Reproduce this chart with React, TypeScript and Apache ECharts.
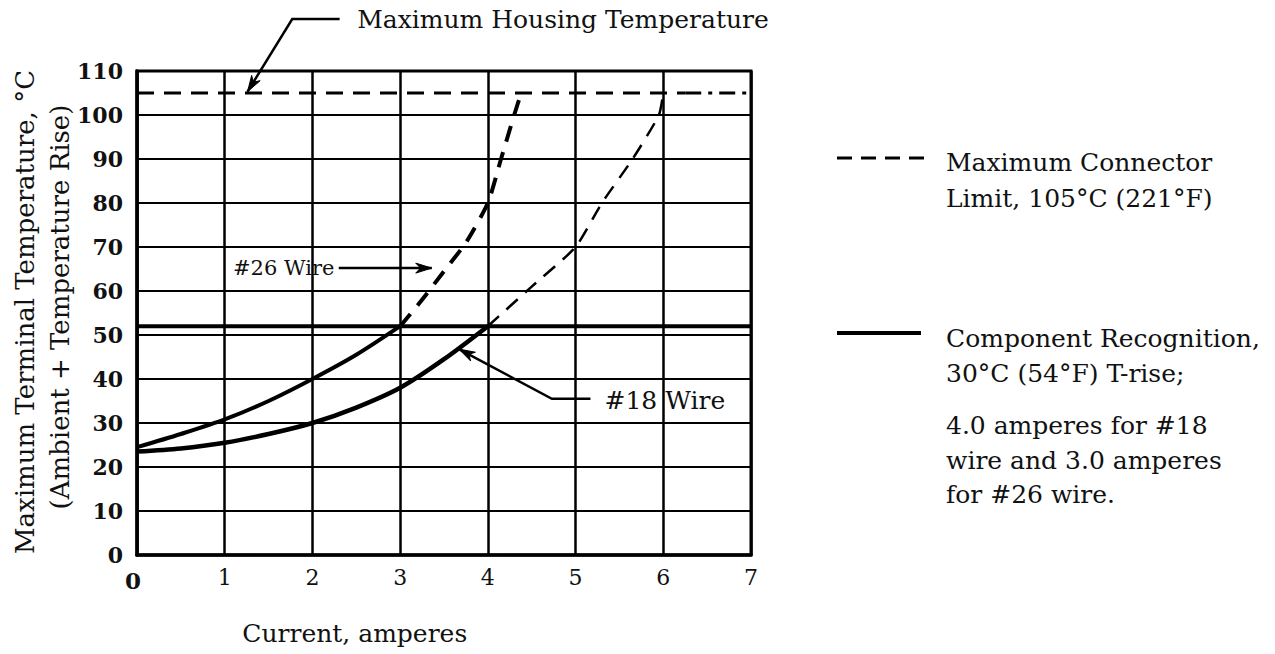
import React, { useEffect, useRef } from "react";
import * as echarts from "echarts";

// ---- data ----
const xTicks = [0, 1, 2, 3, 4, 5, 6, 7];
const yTicks = [0, 10, 20, 30, 40, 50, 60, 70, 80, 90, 100, 110];

const connectorLimit = 105; // Maximum Connector Limit, °C
const recognitionLimit = 52; // Component Recognition level, °C

const current26Solid = [0, 0.5, 1, 1.5, 2, 2.5, 3];
const temp26Solid = [24.5, 27.5, 30.8, 35, 40, 45.5, 52];
const current26Dashed = [3, 3.25, 3.5, 3.75, 4, 4.15, 4.3, 4.38];
const temp26Dashed = [52, 58, 64.5, 71, 80, 90, 100, 105];

const current18Solid = [0, 0.5, 1, 1.5, 2, 2.5, 3, 3.5, 4];
const temp18Solid = [23.5, 24.2, 25.5, 27.5, 30, 33.5, 38, 44.5, 52];
const current18Dashed = [4, 4.5, 5, 5.3, 5.65, 5.95, 6];
const temp18Dashed = [52, 61, 70, 80, 90, 100, 105];

const FONT = "DejaVu Serif";
const INK = "#111";

const zip = (xs: number[], ys: number[]) => xs.map((x, i) => [x, ys[i]]);

export default function App() {
  const ref = useRef<HTMLDivElement>(null);

  useEffect(() => {
    const chart = echarts.init(ref.current!, null, { renderer: "svg" });
    chart.setOption({
      animation: false,
      backgroundColor: "#fff",
      grid: {
        left: 137,
        right: 524,
        top: 71,
        bottom: 99,
        show: true,
        borderColor: "#000",
        borderWidth: 3,
      },
      xAxis: {
        type: "value",
        min: xTicks[0],
        max: xTicks[xTicks.length - 1],
        interval: 1,
        axisLine: { show: true, lineStyle: { color: "#000", width: 3.5 } },
        axisTick: { show: false },
        splitLine: { show: true, lineStyle: { color: "#000", width: 2.5 } },
        axisLabel: {
          margin: 11,
          fontFamily: FONT,
          fontSize: 22,
          color: INK,
          formatter: (v: number) => (v === 0 ? "{z|0}" : String(v)),
          rich: {
            z: { fontFamily: FONT, fontSize: 23, fontWeight: "bold", color: INK, padding: [3, 8, 0, 0] },
          },
        },
      },
      yAxis: {
        type: "value",
        min: yTicks[0],
        max: yTicks[yTicks.length - 1],
        interval: 10,
        axisLine: { show: true, lineStyle: { color: "#000", width: 3.5 } },
        axisTick: { show: false },
        splitLine: { show: true, lineStyle: { color: "#000", width: 2 } },
        axisLabel: {
          margin: 14,
          fontFamily: FONT,
          fontSize: 22,
          fontWeight: "bold",
          color: INK,
        },
      },
      series: [
        {
          name: "Maximum Connector Limit",
          type: "line",
          symbol: "none",
          data: [
            [xTicks[0], connectorLimit],
            [6.25, connectorLimit],
          ],
          lineStyle: { color: "#000", width: 3, type: [17, 10] },
        },
        {
          name: "Maximum Connector Limit (end)",
          type: "line",
          symbol: "none",
          data: [
            [6.25, connectorLimit],
            [xTicks[xTicks.length - 1], connectorLimit],
          ],
          lineStyle: { color: "#000", width: 3, type: [16, 7, 4, 7] },
        },
        {
          name: "Component Recognition",
          type: "line",
          symbol: "none",
          data: [
            [xTicks[0], recognitionLimit],
            [xTicks[xTicks.length - 1], recognitionLimit],
          ],
          lineStyle: { color: "#000", width: 4 },
        },
        {
          name: "#26 Wire",
          type: "line",
          symbol: "none",
          smooth: 0.3,
          data: zip(current26Solid, temp26Solid),
          lineStyle: { color: "#000", width: 4 },
        },
        {
          name: "#26 Wire (beyond)",
          type: "line",
          symbol: "none",
          smooth: 0.2,
          data: zip(current26Dashed, temp26Dashed),
          lineStyle: { color: "#000", width: 4, type: [16, 11] },
        },
        {
          name: "#18 Wire",
          type: "line",
          symbol: "none",
          smooth: 0.3,
          data: zip(current18Solid, temp18Solid),
          lineStyle: { color: "#000", width: 4.5 },
        },
        {
          name: "#18 Wire (beyond)",
          type: "line",
          symbol: "none",
          smooth: 0.2,
          data: zip(current18Dashed, temp18Dashed),
          lineStyle: { color: "#000", width: 2.5, type: [15, 10] },
        },
      ],
    });

    const px = (x: number, y: number) => chart.convertToPixel({ gridIndex: 0 }, [x, y]) as number[];

    const arrowHead = (from: number[], tip: number[], len = 16, half = 5) => {
      const dx = tip[0] - from[0];
      const dy = tip[1] - from[1];
      const d = Math.hypot(dx, dy) || 1;
      const ux = dx / d;
      const uy = dy / d;
      const bx = tip[0] - ux * len;
      const by = tip[1] - uy * len;
      return {
        type: "polygon",
        shape: {
          points: [
            tip,
            [bx - uy * half, by + ux * half],
            [tip[0] - ux * len * 0.7, tip[1] - uy * len * 0.7],
            [bx + uy * half, by - ux * half],
          ],
        },
        style: { fill: "#000", stroke: "#000", lineWidth: 1 },
      };
    };

    const leader = (pts: number[][]) => ({
      type: "polyline",
      shape: { points: pts },
      style: { stroke: "#000", lineWidth: 2.5, fill: null },
    });

    const text = (
      t: string,
      p: number[],
      opts: { size?: number; align?: string; weight?: string; rotation?: number } = {}
    ) => ({
      type: "text",
      x: p[0],
      y: p[1],
      rotation: opts.rotation || 0,
      style: {
        text: t,
        fontFamily: FONT,
        fontSize: opts.size || 25,
        fontWeight: opts.weight || "normal",
        fill: INK,
        align: opts.align || "left",
        verticalAlign: "middle",
        textAlign: opts.align || "left",
        textVerticalAlign: "middle",
      },
    });

    // annotation anchors in data units
    const housingPts = [px(2.31, 121.8), px(1.77, 121.8), px(1.26, 105.3)];
    const wire26Pts = [px(2.3, 65.2), px(3.36, 65.2)];
    const wire18Pts = [px(5.17, 35.5), px(4.73, 35.5), px(3.67, 46.8)];

    const graphics: any[] = [
      // Maximum Housing Temperature
      text("Maximum Housing Temperature", px(2.51, 121.8)),
      leader(housingPts),
      arrowHead(housingPts[1], housingPts[2]),
      // #26 Wire
      text("#26 Wire", px(2.25, 65.2), { size: 21, align: "right" }),
      leader(wire26Pts),
      arrowHead(wire26Pts[0], wire26Pts[1]),
      // #18 Wire
      text("#18 Wire", px(5.33, 35.2), { size: 25 }),
      leader(wire18Pts),
      arrowHead(wire18Pts[1], wire18Pts[2]),
      // axis titles
      text("Current, amperes", px(1.2, -17.8)),
      text("Maximum Terminal Temperature, °C", [25, 312], { size: 26, align: "center", rotation: Math.PI / 2 }),
      text("(Ambient + Temperature Rise)", [60, 307], { size: 26, align: "center", rotation: Math.PI / 2 }),
      // right-hand key
      {
        type: "line",
        shape: { x1: 837, y1: 158, x2: 925, y2: 158 },
        style: { stroke: "#000", lineWidth: 3, lineDash: [15, 9] },
      },
      text("Maximum Connector", [946, 162]),
      text("Limit, 105°C (221°F)", [946, 198]),
      {
        type: "line",
        shape: { x1: 837, y1: 333, x2: 921, y2: 333 },
        style: { stroke: "#000", lineWidth: 4 },
      },
      text("Component Recognition,", [946, 338]),
      text("30°C (54°F) T-rise;", [946, 373]),
      text("4.0 amperes for #18", [946, 425]),
      text("wire and 3.0 amperes", [946, 460]),
      text("for #26 wire.", [946, 494]),
    ];

    chart.setOption({ graphic: graphics });

    return () => chart.dispose();
  }, []);

  return (
    <div
      ref={ref}
      style={{ position: "fixed", left: 0, top: 0, width: 1275, height: 654, background: "#fff" }}
    />
  );
}
